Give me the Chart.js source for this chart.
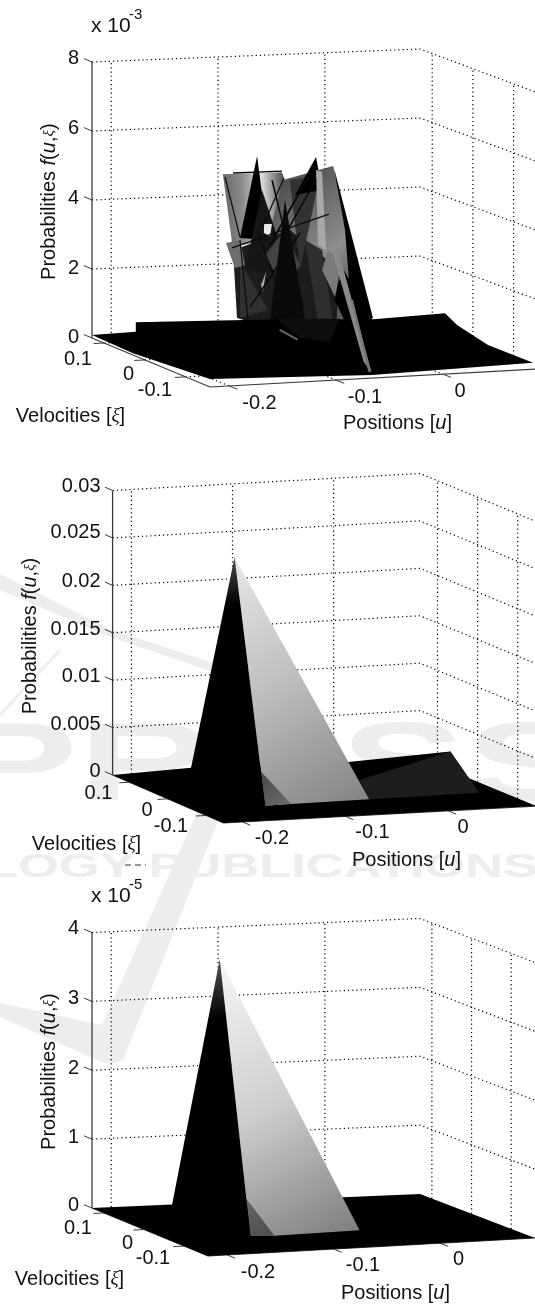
<!DOCTYPE html>
<html>
<head>
<meta charset="utf-8">
<title>Probabilities f(u, xi)</title>
<script src="https://cdn.jsdelivr.net/npm/chart.js@4"></script>
<style>
  html, body { margin: 0; padding: 0; background: #fff; }
  #page { position: relative; width: 535px; height: 1307px; overflow: hidden; }
  #page canvas, #mark { position: absolute; left: 0; }
  #page canvas { filter: blur(0.35px); }
  #mark { top: 0; }
</style>
</head>
<body>
<div id="page">
  <svg id="mark" width="535" height="1307" font-family="'Liberation Sans'" font-weight="bold" fill="#ededed">
    <path d="M0 574 L107 628 L273 683 L123 1060 Q112 1066 102 1062 L0 1017 L0 1003 L102 1025 L243 710 L213 672 L110 637 L0 590 Z"/>
    <path d="M60 650 L0 715" stroke="#eee" stroke-width="3"/>
    <text x="-48" y="800" font-size="112" textLength="640" lengthAdjust="spacingAndGlyphs">PRESS</text>
    <text x="-14" y="877" font-size="34" textLength="552" lengthAdjust="spacingAndGlyphs">LOGY PUBLICATIONS</text>
    <line x1="125" y1="865" x2="146" y2="865" stroke="#333" stroke-dasharray="6 4"/>
  </svg>
  <canvas id="top" width="535" height="440" style="top:0"></canvas>
  <canvas id="middle" width="535" height="430" style="top:440px"></canvas>
  <canvas id="bottom" width="535" height="437" style="top:870px"></canvas>
</div>
<script>
// axis ticks
const uTicks = [-0.2, -0.1, 0];
const xiTicks = [0.1, 0, -0.1];
const uTickLabels = ['-0.2', '-0.1', '0'];
const xiTickLabels = ['0.1', '0', '-0.1'];
const topTicks = [0, 2, 4, 6, 8];          // x 10^-3
const topTickLabels = ['0', '2', '4', '6', '8'];
const middleTicks = [0, 0.005, 0.01, 0.015, 0.02, 0.025, 0.03];
const middleTickLabels = ['0', '0.005', '0.01', '0.015', '0.02', '0.025', '0.03'];
const bottomTicks = [0, 1, 2, 3, 4];       // x 10^-5
const bottomTickLabels = ['0', '1', '2', '3', '4'];

// top panel: floor of the surface (f in 10^-3)
const topFloorU = [-0.218, -0.2144, -0.2022, -0.0599, 0.089, 0.089, 0.089, 0.089, 0.0456, -0.042, -0.177, -0.177];
const topFloorXi = [0.13, 0.0386, -0.1184, -0.1428, -0.148, -0.037, 0.039, 0.0685, 0.13, 0.13, 0.13, 0.13];
const topFloorF = [0.09, 0, 0, 0, 0.13, 0.154, 0.4, 0.61, 0.217, 0.33, 0.406, 0.133];

// top panel: facets behind the floor, all read on the xi = 0 plane
const backU = [
  [-0.145, -0.0897, -0.0878, -0.0869, -0.1281, -0.1355],
  [-0.0419, -0.0887, -0.1056, -0.0728, -0.0241, -0.0148],
  [-0.1355, -0.0822, -0.0354, -0.04, -0.0728, -0.1103, -0.1318],
  [-0.113, -0.129, -0.1028],
  [-0.1084, -0.1243, -0.0822],
  [-0.0822, -0.0541, -0.0728],
  [-0.0578, -0.0775, -0.0522],
  [-0.0578, -0.0522, -0.0484, -0.056],
  [-0.041, -0.0045, -0.0241, -0.0307],
  [-0.1056, -0.0869, -0.0728, -0.0869],
  [-0.0869, -0.1009, -0.0681],
  [-0.129, -0.1028, -0.129],
  [-0.0681, -0.0522, -0.04, -0.0541],
  [-0.1421, -0.129, -0.1243, -0.1337],
  [-0.1066, -0.0991, -0.1009, -0.1066],
  [-0.1093, -0.1047, -0.1075],
  [-0.0466, -0.0335, -0.04, -0.0522]
];
const backF = [
  [5.28, 5.26, 5.09, 3.29, 3.2, 3.07],
  [5.37, 5.03, 3.03, 0.37, 0.88, 2.03],
  [3.07, 3.57, 2.34, 0.32, 0.22, 0.86, 1.09],
  [5.76, 3.41, 3.31],
  [4.77, 2.47, 2.27],
  [5.02, 5.12, 2.4],
  [5.65, 4.58, 4.69],
  [5.28, 5.21, 2.94, 3.1],
  [5.31, 0.91, 0.94, 3.5],
  [2.88, 3.58, 2.54, 1.84],
  [4.45, 0.99, 0.94],
  [2.71, 1.28, 1.09],
  [3.26, 2.95, 0.47, 0.49],
  [3.28, 3.35, 2.62, 2.54],
  [3.78, 3.77, 3.42, 3.52],
  [2.02, 2.39, 1.81],
  [2.94, 2.63, 1.57, 2.37]
];
// thin edges crossing those facets
const edgeU = [
  [-0.0457, -0.1365], [-0.0653, -0.1009], [-0.099, -0.07], [-0.143, -0.129], [-0.129, -0.1215],
  [-0.1355, -0.0897], [-0.0728, -0.1196], [-0.113, -0.0822], [-0.0878, -0.1084], [-0.0578, -0.0897]
];
const edgeF = [
  [3.98, 3.13], [5.08, 3.16], [5.04, 1.32], [5.19, 3.43], [3.35, 1.02],
  [5.3, 5.29], [3.47, 1.39], [3.61, 0.96], [5.09, 3.67], [4.99, 3.29]
];
// facets in front of the floor, read on the xi = -0.13 plane
const frontU = [
  [-0.1442, -0.0853, -0.0946, -0.1227],
  [-0.0825, -0.0544, -0.0572, -0.09],
  [-0.0918, -0.0853, -0.0553, -0.0628]
];
const frontF = [
  [1.71, 1.61, 0.96, 1.12],
  [3.08, 1.53, 0, 2.17],
  [3.53, 3.47, 0, 0.33]
];
const frontEdgeU = [[-0.1414, -0.1246], [-0.074, -0.0572]];
const frontEdgeF = [[1.38, 1.07], [2.14, 0.03]];

// middle panel
const midFloorU = [-0.2186, -0.141, 0.0143, 0.0854, 0.0854, 0.0854, -0.2186];
const midFloorXi = [0.1435, 0.1435, 0.1435, 0.0678, 0.0215, -0.1455, -0.1455];
const midFloorF = [0, 0.0003, 0, 0.002, 0, 0, 0];
const midPlateU = [-0.0135, 0.0854, 0.0854, 0.0641, -0.0447];
const midPlateXi = [0.0444, 0.0678, 0.0215, -0.058, -0.0614];
const midPlateF = [0, 0.002, 0, 0, 0];
const midPeak = [-0.153, 0, 0.0251];
const midSailU = [-0.153, -0.0447, -0.1218, -0.1477];
const midSailXi = [0, -0.0614, -0.0637, -0.0652];
const midSailF = [0.0251, 0, 0, 0];
const midShadeU = [-0.0818, -0.1218, -0.1477];
const midShadeXi = [0.1173, -0.0637, -0.0652];
const midSpikeU = [-0.153, -0.141, -0.2186, -0.1477];
const midSpikeXi = [0, 0.1435, -0.1455, -0.0652];
const midSpikeF = [0.0251, 0.0003, 0, 0];

// bottom panel (f in 10^-5)
const botFloorU = [-0.218, -0.143, 0.089, 0.089, -0.218];
const botFloorXi = [0.13, 0.13, 0.13, -0.16, -0.16];
const botPeak = [-0.147, 0, 3.87];
const botSailU = [-0.147, -0.0392, -0.1218, -0.1422];
const botSailXi = [0, -0.0624, -0.0698, -0.0643];
const botSailF = [3.87, 0, 0, 0];
const botShadeU = [-0.074, -0.1218, -0.1422];
const botShadeXi = [0.13, -0.0698, -0.0643];
const botShadeF = [0.05, 0, 0];
const botSpikeU = [-0.147, -0.143, -0.218, -0.1422];
const botSpikeXi = [0, 0.13, -0.16, -0.0643];
const botSpikeF = [3.87, 0, 0, 0];

// where each 3D box sits on the page
const topBox = { L: [92, 338], B: [420, 325], F: [210, 387], R: [538, 369], height: 276,
  uMin: -0.218, uMax: 0.089, xiMax: 0.13, xiMin: -0.16, fMax: 8 };
const middleBox = { L: [112.6, 775], B: [420, 758], F: [223.5, 823], R: [536, 806], height: 284.5,
  uMin: -0.2186, uMax: 0.0854, xiMax: 0.1435, xiMin: -0.1455, fMax: 0.03 };
const bottomBox = { L: [92, 1208], B: [420, 1194], F: [208, 1256], R: [535, 1238], height: 275.5,
  uMin: -0.218, uMax: 0.089, xiMax: 0.13, xiMin: -0.16, fMax: 4 };

const backShades = ['sailLeft', 'sailRight', '#1c1c1c', '#000', '#161616', '#333', '#000', '#a8a8a8', '#000',
  '#444', '#0a0a0a', '#303030', '#2e2e2e', '#6e6e6e', '#e8e8e8', '#aaa', '#7a7a7a'];
const frontShades = ['#0e0e0e', '#000', '#8a8a8a'];
const edgeWidths = [1.2, 2, 1.6, 1.2, 1.2, 1.4, 1.6, 1.2, 1.2, 1.6];
const frontEdgeShades = ['#666', '#777'];
const frontEdgeWidths = [2, 2.5];

function project(box, u, xi, f) {
  const s = (u - box.uMin) / (box.uMax - box.uMin);
  const t = (box.xiMax - xi) / (box.xiMax - box.xiMin);
  const mix = i => box.L[i] * (1 - s) * (1 - t) + box.B[i] * s * (1 - t) + box.F[i] * (1 - s) * t + box.R[i] * s * t;
  return { x: mix(0), y: mix(1) - f / box.fMax * box.height };
}

function points(box, us, xis, fs) {
  return us.map((u, i) => project(box, u, Array.isArray(xis) ? xis[i] : xis, Array.isArray(fs) ? fs[i] : fs));
}

function patch(data, fill) {
  return { data, showLine: true, fill: 'shape', backgroundColor: fill, borderWidth: 0, pointRadius: 0 };
}

function stroke(data, color, width, dash) {
  return { data, showLine: true, fill: false, borderColor: color, borderWidth: width, borderDash: dash || [], pointRadius: 0 };
}

// linear gradient between two picture points, through the chart's scales
function shade(from, to, stops) {
  return ctx => {
    const { chart } = ctx;
    const { x, y } = chart.scales;
    const ends = [x.getPixelForValue(from.x), y.getPixelForValue(from.y), x.getPixelForValue(to.x), y.getPixelForValue(to.y)];
    if (!ends.every(Number.isFinite)) return stops[0]; // scales not laid out yet
    const g = chart.ctx.createLinearGradient(...ends);
    stops.forEach((c, i) => g.addColorStop(i / (stops.length - 1), c));
    return g;
  };
}

function frame(box, fTicks) {
  const sets = [];
  const dots = (data) => sets.push(stroke(data, '#000', 1.2, [1.2, 3]));
  // floor grid
  uTicks.forEach(u => dots(points(box, [u, u], [box.xiMax, box.xiMin], 0)));
  xiTicks.forEach(xi => dots(points(box, [box.uMin, box.uMax], xi, 0)));
  // walls
  fTicks.slice(1).forEach(f => dots(points(box, [box.uMin, box.uMax, box.uMax], [box.xiMax, box.xiMax, box.xiMin], f)));
  uTicks.forEach(u => dots(points(box, [u, u], box.xiMax, [0, box.fMax])));
  xiTicks.forEach(xi => dots(points(box, [box.uMax, box.uMax], xi, [0, box.fMax])));
  // solid axes and tick marks
  const ink = '#3a3a3a';
  sets.push(stroke(points(box, [box.uMin, box.uMin], box.xiMax, [0, box.fMax]), ink, 1.3));
  sets.push(stroke(points(box, [box.uMin, box.uMin, box.uMax], [box.xiMax, box.xiMin, box.xiMin], 0), ink, 1.2));
  fTicks.forEach(f => sets.push(stroke(points(box, [box.uMin, box.uMin], [box.xiMax, box.xiMax + 0.02], f), ink, 1)));
  uTicks.forEach(u => sets.push(stroke(points(box, [u, u], [box.xiMin, box.xiMin - 0.02], 0), ink, 1)));
  xiTicks.forEach(xi => sets.push(stroke(points(box, [box.uMin, box.uMin - 0.01], xi, 0), ink, 1)));
  return sets;
}

function topSurface() {
  const box = topBox;
  const sets = [];
  const left = shade(project(box, -0.145, 0, 4), project(box, -0.0878, 0, 4), ['#666', '#8c8c8c', '#dcdcdc', '#555']);
  const right = shade(project(box, -0.0887, 0, 5), project(box, -0.0148, 0, 2), ['#4e4e4e', '#6e6e6e', '#8e8e8e', '#5a5a5a']);
  backU.forEach((us, i) => {
    const name = backShades[i];
    const fill = name === 'sailLeft' ? left : name === 'sailRight' ? right : name;
    sets.push(patch(points(box, us, 0, backF[i]), fill));
  });
  edgeU.forEach((us, i) => sets.push(stroke(points(box, us, 0, edgeF[i]), '#0a0a0a', edgeWidths[i])));
  sets.push(patch(points(box, topFloorU, topFloorXi, topFloorF), '#000'));
  frontU.forEach((us, i) => sets.push(patch(points(box, us, -0.13, frontF[i]), frontShades[i])));
  frontEdgeU.forEach((us, i) => sets.push(stroke(points(box, us, -0.13, frontEdgeF[i]), frontEdgeShades[i], frontEdgeWidths[i])));
  return sets;
}

function middleSurface() {
  const box = middleBox;
  const apex = project(box, ...midPeak);
  const foot = project(box, midSailU[1], midSailXi[1], 0);
  return [
    patch(points(box, midFloorU, midFloorXi, midFloorF), '#000'),
    patch(points(box, midPlateU, midPlateXi, midPlateF), '#1d1d1d'),
    patch(points(box, midSailU, midSailXi, midSailF), shade(apex, foot, ['#e8e8e8', '#bcbcbc', '#848484'])),
    patch(points(box, midShadeU, midShadeXi, 0), shade(project(box, midShadeU[0], midShadeXi[0], 0), project(box, midShadeU[1], midShadeXi[1], 0), ['#4a4a4a', '#6a6a6a'])),
    patch(points(box, midSpikeU, midSpikeXi, midSpikeF), shade(apex, project(box, midPeak[0], midPeak[1], 0.02), ['#4a4a4a', '#000']))
  ];
}

function bottomSurface() {
  const box = bottomBox;
  const apex = project(box, ...botPeak);
  const foot = project(box, botSailU[1], botSailXi[1], 0);
  return [
    patch(points(box, botFloorU, botFloorXi, 0), '#000'),
    patch(points(box, botSailU, botSailXi, botSailF), shade(apex, foot, ['#f6f6f6', '#cfcfcf', '#7e7e7e'])),
    patch(points(box, botShadeU, botShadeXi, botShadeF), shade(project(box, botShadeU[0], botShadeXi[0], 0), project(box, botShadeU[1], botShadeXi[1], 0), ['#666', '#4c4c4c'])),
    patch(points(box, botSpikeU, botSpikeXi, botSpikeF), shade(apex, project(box, botPeak[0], botPeak[1], 3), ['#555', '#000']))
  ];
}

// --- text --- //
const SANS = "'Liberation Sans'";
const font = (size, style) => `${style || ''} ${size}px ${SANS}`;
const XI_LARGE = "italic 19px 'Liberation Serif'";
const XI_SMALL = "italic 15px 'Liberation Serif'";

function runs(ctx, parts, cx, cy, angle) {
  ctx.save();
  const width = parts.reduce((w, p) => { ctx.font = p[1]; return w + ctx.measureText(p[0]).width; }, 0);
  ctx.translate(cx, cy);
  ctx.rotate(angle || 0);
  ctx.textAlign = 'left';
  ctx.textBaseline = 'middle';
  let x = -width / 2;
  parts.forEach(p => {
    ctx.font = p[1];
    ctx.fillText(p[0], x, 0);
    x += ctx.measureText(p[0]).width;
  });
  ctx.restore();
}

// label placement per panel, in page pixels
function labelPlugin(cfg) {
  return {
    id: 'labels',
    afterDraw(chart) {
      const { ctx, scales: { x, y } } = chart;
      const px = v => x.getPixelForValue(v);
      const py = v => y.getPixelForValue(v);
      const size = 20;
      ctx.save();
      ctx.fillStyle = '#111';
      ctx.font = font(size);
      ctx.textBaseline = 'middle';
      ctx.textAlign = 'right';
      cfg.fLabels.forEach((t, i) => ctx.fillText(t, px(cfg.fRight), py(cfg.fY[i])));
      ctx.textAlign = 'center';
      xiTickLabels.forEach((t, i) => ctx.fillText(t, px(cfg.xiAt[i][0]), py(cfg.xiAt[i][1])));
      uTickLabels.forEach((t, i) => ctx.fillText(t, px(cfg.uAt[i][0]), py(cfg.uAt[i][1])));
      if (cfg.power) {
        ctx.textAlign = 'left';
        ctx.font = font(21);
        ctx.fillText('x 10', px(91), py(cfg.power[0]));
        ctx.font = font(15);
        ctx.fillText(cfg.power[2], px(129), py(cfg.power[1]));
      }
      runs(ctx, [['Velocities [', font(size)], ['\u03be', XI_LARGE], [']', font(size)]], px(cfg.xiTitle[0]), py(cfg.xiTitle[1]));
      runs(ctx, [['Positions [', font(size)], ['u', font(size, 'italic')], [']', font(size)]], px(cfg.uTitle[0]), py(cfg.uTitle[1]));
      runs(ctx, [['Probabilities ', font(size)], ['f', font(size, 'italic')], ['(', font(size)], ['u', font(size, 'italic')],
        [',', font(size)], ['\u03be', XI_SMALL], [')', font(size)]], px(cfg.fTitle[0]), py(cfg.fTitle[1]), -Math.PI / 2);
      ctx.restore();
    }
  };
}

function drawPanel(id, yMin, yMax, sets, cfg) {
  sets.forEach((s, i) => { s.order = -i; s.clip = false; });
  new Chart(document.getElementById(id), {
    type: 'scatter',
    data: { datasets: sets },
    plugins: [labelPlugin(cfg)],
    options: {
      responsive: false,
      animation: false,
      devicePixelRatio: 1,
      layout: { padding: 0 },
      elements: { line: { tension: 0 } },
      plugins: { legend: { display: false }, tooltip: { enabled: false } },
      scales: {
        x: { type: 'linear', min: 0, max: 535, display: false },
        y: { type: 'linear', min: yMin, max: yMax, reverse: true, display: false }
      }
    }
  });
}

drawPanel('top', 0, 440, [...frame(topBox, topTicks), ...topSurface()], {
  fLabels: topTickLabels, fRight: 79, fY: [337, 268, 198, 128, 58],
  xiAt: [[78, 359], [128.5, 374], [155, 390]], uAt: [[259.5, 403], [365, 397], [460, 391]],
  xiTitle: [70.5, 416], uTitle: [397.5, 423], fTitle: [49.5, 201.7], power: [26, 15, '-3']
});
drawPanel('middle', 440, 870, [...frame(middleBox, middleTicks), ...middleSurface()], {
  fLabels: middleTickLabels, fRight: 100.6, fY: [771, 724, 676.7, 629, 581, 532.7, 486],
  xiAt: [[98.5, 793], [147, 810], [171, 826]], uAt: [[272, 838], [372.5, 832], [463, 827]],
  xiTitle: [86.5, 844], uTitle: [406.5, 860], fTitle: [30, 636]
});
drawPanel('bottom', 870, 1307, [...frame(bottomBox, bottomTicks), ...bottomSurface()], {
  fLabels: bottomTickLabels, fRight: 79, fY: [1205, 1137, 1068, 998, 928],
  xiAt: [[78, 1228], [127.5, 1243], [153, 1258]], uAt: [[258, 1272], [363, 1265], [458.5, 1259]],
  xiTitle: [69.5, 1279], uTitle: [395.5, 1293], fTitle: [49.5, 1071.7], power: [896, 885, '-5']
});
</script>
</body>
</html>
